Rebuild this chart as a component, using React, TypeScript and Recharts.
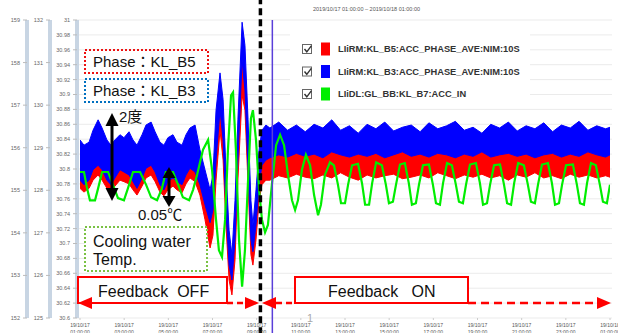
import React from 'react';
import { ComposedChart, Area, Line, XAxis, YAxis, CartesianGrid, ReferenceLine } from 'recharts';

// hours since 2019/10/17 00:00 (1 = 01:00, 25 = next day 01:00)
const phaseHours = [
  1.0, 1.18, 1.41, 1.59, 1.82, 2.0, 2.22, 2.4, 2.58, 2.81, 2.99, 3.22, 3.4, 3.58, 3.81, 3.99, 4.22, 4.4, 4.62, 4.8, 4.98, 5.21, 5.39, 5.62, 5.8, 5.98,
  6.21, 6.43, 6.66, 6.89, 7.02, 7.16, 7.34, 7.48, 7.61, 7.75, 7.88, 8.02, 8.15, 8.34, 8.47, 8.61, 8.74, 8.83, 8.97, 9.11, 9.24, 9.42,
  9.6, 10.0, 10.4, 10.8, 11.2, 11.6, 12.0, 12.4, 12.8, 13.2, 13.6, 14.0, 14.4, 14.8, 15.2, 15.6, 16.0, 16.4, 16.8, 17.2,
  17.6, 18.0, 18.4, 18.8, 19.2, 19.6, 20.0, 20.4, 20.8, 21.2, 21.6, 22.0, 22.4, 22.8, 23.2, 23.6, 24.0, 24.4, 24.8, 25.0,
];

// KL_B5 phase (red) noise band, low / high edge
const b5Low = [
  30.774, 30.769, 30.774, 30.785, 30.792, 30.785, 30.774, 30.769, 30.777, 30.785, 30.783, 30.78, 30.772, 30.765, 30.777, 30.788, 30.792, 30.783, 30.769, 30.764, 30.772, 30.777, 30.772, 30.768, 30.78, 30.788,
  30.783, 30.765, 30.732, 30.694, 30.711, 30.785, 30.852, 30.812, 30.725, 30.651, 30.631, 30.678, 30.785, 30.899, 30.879, 30.779, 30.685, 30.671, 30.705, 30.758, 30.779, 30.785,
  30.785, 30.791, 30.788, 30.793, 30.789, 30.787, 30.792, 30.788, 30.795, 30.789, 30.785, 30.792, 30.788, 30.791, 30.793, 30.787, 30.789, 30.792, 30.788, 30.795,
  30.791, 30.787, 30.792, 30.789, 30.793, 30.788, 30.791, 30.785, 30.792, 30.789, 30.795, 30.788, 30.791, 30.787, 30.793, 30.789, 30.792, 30.788, 30.791, 30.789,
];
const b5High = [
  30.819, 30.812, 30.815, 30.828, 30.839, 30.832, 30.819, 30.812, 30.819, 30.826, 30.823, 30.826, 30.819, 30.812, 30.823, 30.832, 30.836, 30.828, 30.816, 30.812, 30.819, 30.826, 30.819, 30.812, 30.826, 30.832,
  30.832, 30.805, 30.772, 30.738, 30.758, 30.839, 30.893, 30.859, 30.772, 30.691, 30.658, 30.725, 30.839, 30.944, 30.933, 30.839, 30.732, 30.705, 30.745, 30.805, 30.826, 30.828,
  30.828, 30.826, 30.831, 30.824, 30.83, 30.827, 30.832, 30.826, 30.828, 30.823, 30.831, 30.827, 30.824, 30.83, 30.826, 30.832, 30.827, 30.828, 30.824, 30.831,
  30.826, 30.828, 30.823, 30.83, 30.827, 30.832, 30.824, 30.828, 30.826, 30.831, 30.827, 30.823, 30.83, 30.826, 30.828, 30.824, 30.831, 30.827, 30.828, 30.826,
];

// KL_B3 phase (blue) noise band
const b3Low = [
  30.785, 30.779, 30.785, 30.799, 30.805, 30.799, 30.785, 30.779, 30.788, 30.799, 30.796, 30.792, 30.783, 30.774, 30.788, 30.801, 30.805, 30.796, 30.779, 30.772, 30.783, 30.788, 30.783, 30.779, 30.792, 30.801,
  30.796, 30.779, 30.752, 30.728, 30.745, 30.812, 30.879, 30.839, 30.745, 30.671, 30.651, 30.705, 30.812, 30.946, 30.906, 30.799, 30.705, 30.689, 30.725, 30.779, 30.805, 30.812,
  30.815, 30.819, 30.816, 30.821, 30.817, 30.82, 30.815, 30.823, 30.819, 30.816, 30.82, 30.817, 30.821, 30.815, 30.819, 30.823, 30.817, 30.82, 30.816, 30.821,
  30.819, 30.815, 30.82, 30.817, 30.823, 30.816, 30.819, 30.821, 30.817, 30.82, 30.815, 30.819, 30.821, 30.816, 30.82, 30.817, 30.823, 30.819, 30.816, 30.819,
];
const b3High = [
  30.839, 30.832, 30.836, 30.852, 30.866, 30.855, 30.839, 30.832, 30.839, 30.846, 30.842, 30.85, 30.839, 30.832, 30.846, 30.859, 30.863, 30.85, 30.836, 30.832, 30.842, 30.846, 30.836, 30.832, 30.846, 30.855,
  30.859, 30.826, 30.799, 30.772, 30.792, 30.879, 30.929, 30.893, 30.799, 30.718, 30.685, 30.758, 30.866, 30.997, 30.966, 30.866, 30.758, 30.725, 30.772, 30.826, 30.852, 30.859,
  30.855, 30.863, 30.852, 30.859, 30.85, 30.86, 30.855, 30.866, 30.852, 30.858, 30.848, 30.86, 30.854, 30.863, 30.851, 30.856, 30.859, 30.85, 30.862, 30.854,
  30.858, 30.864, 30.852, 30.856, 30.848, 30.86, 30.855, 30.863, 30.851, 30.858, 30.854, 30.862, 30.85, 30.859, 30.855, 30.864, 30.852, 30.858, 30.854, 30.856,
];

// cooling water temperature KL_B7 (green)
const coolHours = [
  1.0, 1.18, 1.32, 1.45, 1.68, 1.82, 2.0, 2.27, 2.49, 2.72, 2.99, 3.17, 3.4, 3.72, 3.99, 4.22, 4.49, 4.71, 4.89, 5.21, 5.44, 5.66, 5.94, 6.12, 6.3,
  6.57, 6.8, 6.98, 7.16, 7.29, 7.43, 7.57, 7.7, 7.84, 7.93, 8.06, 8.2, 8.34, 8.47, 8.61, 8.74, 8.83, 8.97, 9.11, 9.24, 9.38, 9.51, 9.69, 9.88,
  10.06, 10.24, 10.42, 10.6, 10.74, 10.87, 11.05, 11.23, 11.42, 11.6, 11.78, 11.91, 12.09, 12.32,
  12.5, 12.68, 12.82, 13.0, 13.14, 13.32, 13.59, 13.77, 13.91, 14.09, 14.23, 14.41,
  14.67, 14.85, 14.99, 15.17, 15.31, 15.49, 15.71, 15.89, 16.03, 16.21, 16.35, 16.53,
  16.8, 16.98, 17.12, 17.3, 17.44, 17.62, 17.84, 18.02, 18.16, 18.34, 18.48, 18.66,
  18.93, 19.11, 19.25, 19.43, 19.57, 19.75, 20.02, 20.2, 20.34, 20.52, 20.66, 20.84,
  21.1, 21.28, 21.42, 21.6, 21.74, 21.92, 22.19, 22.37, 22.51, 22.69, 22.83, 23.01,
  23.32, 23.5, 23.64, 23.82, 23.96, 24.14, 24.36, 24.54, 24.68, 24.86, 25.0,
];
const coolTemp = [
  30.796, 30.796, 30.774, 30.758, 30.758, 30.774, 30.796, 30.796, 30.779, 30.761, 30.758, 30.774, 30.796, 30.796, 30.779, 30.762, 30.758, 30.774, 30.796, 30.796, 30.779, 30.762, 30.758, 30.772, 30.792,
  30.826, 30.839, 30.799, 30.732, 30.691, 30.682, 30.732, 30.826, 30.899, 30.903, 30.826, 30.705, 30.642, 30.691, 30.785, 30.868, 30.879, 30.839, 30.772, 30.732, 30.715, 30.725, 30.779, 30.832,
  30.846, 30.832, 30.792, 30.758, 30.745, 30.758, 30.799, 30.819, 30.805, 30.765, 30.738, 30.752, 30.792, 30.809,
  30.805, 30.779, 30.754, 30.754, 30.779, 30.805, 30.807, 30.781, 30.752, 30.752, 30.781, 30.809,
  30.805, 30.779, 30.754, 30.756, 30.779, 30.806, 30.808, 30.781, 30.752, 30.754, 30.779, 30.805,
  30.806, 30.779, 30.754, 30.752, 30.781, 30.808, 30.805, 30.779, 30.756, 30.754, 30.779, 30.806,
  30.808, 30.781, 30.752, 30.754, 30.779, 30.805, 30.806, 30.779, 30.754, 30.752, 30.781, 30.808,
  30.805, 30.779, 30.756, 30.754, 30.779, 30.806, 30.808, 30.781, 30.752, 30.754, 30.779, 30.805,
  30.806, 30.779, 30.754, 30.752, 30.781, 30.808, 30.805, 30.779, 30.756, 30.754, 30.779,
];

const xTicks = [1, 3, 5, 7, 9, 11, 13, 15, 17, 19, 21, 23, 25];
const tickDates = ['19/10/17', '19/10/17', '19/10/17', '19/10/17', '19/10/17', '19/10/17', '19/10/17', '19/10/17', '19/10/17', '19/10/17', '19/10/17', '19/10/17', '19/10/18'];
const tickTimes = ['01:00:00', '03:00:00', '05:00:00', '07:00:00', '09:00:00', '11:00:00', '13:00:00', '15:00:00', '17:00:00', '19:00:00', '21:00:00', '23:00:00', '01:00:00'];
const tempTicks = [30.6, 30.62, 30.64, 30.66, 30.68, 30.7, 30.72, 30.74, 30.76, 30.78, 30.8, 30.82, 30.84, 30.86, 30.88, 30.9, 30.92, 30.94, 30.96, 30.98, 31];
const midTicks = [125, 126, 127, 128, 129, 130, 131, 132];
const outerTicks = [152, 153, 154, 155, 156, 157, 158, 159];

const feedbackSwitch = 9.17;
const purpleMarker = 9.71;

const legendItems = [
  { name: 'LIiRM:KL_B5:ACC_PHASE_AVE:NIM:10S', color: '#ff0000' },
  { name: 'LIiRM:KL_B3:ACC_PHASE_AVE:NIM:10S', color: '#0000ff' },
  { name: 'LIiDL:GL_BB:KL_B7:ACC_IN', color: '#00ee00' },
];

const phaseRows = phaseHours.map((t, i) => ({ t, b5: [b5Low[i], b5High[i]], b3: [b3Low[i], b3High[i]] }));
const coolRows = coolHours.map((t, i) => ({ t, b7: coolTemp[i] }));

const FONT = '"Liberation Sans", Arial, "Noto Sans CJK JP", sans-serif';

const TimeTick = ({ x, y, payload }: any) => {
  const i = xTicks.indexOf(payload.value);
  return (
    <g>
      <text x={x} y={y + 5} textAnchor="middle" fontSize={5} fill="#555">{tickDates[i]}</text>
      <text x={x} y={y + 11.5} textAnchor="middle" fontSize={5} fill="#555">{tickTimes[i]}</text>
    </g>
  );
};

const axisProps = {
  interval: 0 as const,
  tickSize: 4,
  tickMargin: 3,
  allowDataOverflow: true,
  tick: { fontSize: 5.5, fill: '#666' },
  tickLine: { stroke: '#bbb' },
  axisLine: { stroke: '#c8d5e3', strokeWidth: 4 },
};

const Arrow = ({ x, top, bottom, head }: { x: number; top: number; bottom: number; head: number }) => (
  <g>
    <line x1={x} y1={top + head - 2} x2={x} y2={bottom - head + 2} stroke="#000" strokeWidth={3} />
    <polygon points={`${x},${top} ${x - 6.5},${top + head} ${x + 6.5},${top + head}`} fill="#000" />
    <polygon points={`${x},${bottom} ${x - 6.5},${bottom - head} ${x + 6.5},${bottom - head}`} fill="#000" />
  </g>
);

const Annotations = () => (
  <svg width={618} height={333} style={{ position: 'absolute', left: 0, top: 0, fontFamily: FONT }}>
    <text x={313} y={11} fontSize={5.5} fill="#555">2019/10/17 01:00:00 – 2019/10/18 01:00:00</text>

    {/* legend */}
    <rect x={290} y={30} width={240} height={77} fill="#fff" />
    {legendItems.map((item, i) => {
      const cy = 49 + i * 22.5;
      return (
        <g key={item.name}>
          <rect x={302.5} y={cy - 4.5} width={9} height={9} fill="#fff" stroke="#666" strokeWidth={1} />
          <path d={`M304.5 ${cy} l2.3 2.8 l4.5 -6`} fill="none" stroke="#333" strokeWidth={1.4} />
          <rect x={321} y={cy - 6.5} width={9} height={13} fill={item.color} />
          <text x={338} y={cy + 3.3} fontSize={9.3} fontWeight="bold" fill="#333">{item.name}</text>
        </g>
      );
    })}

    {/* phase labels */}
    <rect x={85} y={50} width={123} height={23} fill="#fff" stroke="#ee1111" strokeWidth={2} strokeDasharray="2 2" />
    <text x={93} y={67} fontSize={15} fill="#111">Phase：KL_B5</text>
    <rect x={85} y={79} width={123} height={23} fill="#fff" stroke="#0070c0" strokeWidth={2} strokeDasharray="2 2" />
    <text x={93} y={96} fontSize={15} fill="#111">Phase：KL_B3</text>

    <Arrow x={112} top={113} bottom={201} head={13} />
    <text x={119} y={122} fontSize={15} fill="#111">2度</text>
    <Arrow x={169} top={167} bottom={207} head={11} />
    <text x={138} y={220} fontSize={15} fill="#111">0.05℃</text>

    <rect x={85} y={227} width={122} height={44} fill="#fff" stroke="#7ac143" strokeWidth={2} strokeDasharray="2 2" />
    <text x={93} y={247} fontSize={16} fill="#111">Cooling water</text>
    <text x={93} y={265} fontSize={16} fill="#111">Temp.</text>

    {/* feedback OFF */}
    <rect x={78} y={277} width={149} height={26} fill="#fff" stroke="#ff0000" strokeWidth={2} />
    <text x={98} y={297} fontSize={16} fill="#111" style={{ whiteSpace: 'pre' }}>Feedback  OFF</text>
    <line x1={227} y1={303} x2={248} y2={303} stroke="#ff0000" strokeWidth={2.5} strokeDasharray="6 4" />
    <polygon points="78,303 92,297 92,309" fill="#ff0000" />
    <polygon points="259,303 245,297 245,309" fill="#ff0000" />

    {/* feedback ON */}
    <rect x={295} y={277} width={173} height={26} fill="#fff" stroke="#ff0000" strokeWidth={2} />
    <text x={328} y={297} fontSize={16} fill="#111" style={{ whiteSpace: 'pre' }}>Feedback   ON</text>
    <line x1={276} y1={303} x2={295} y2={303} stroke="#ff0000" strokeWidth={2.5} strokeDasharray="6 4" />
    <line x1={468} y1={303} x2={598} y2={303} stroke="#ff0000" strokeWidth={2.5} strokeDasharray="8 5" />
    <polygon points="262,303 276,297 276,309" fill="#ff0000" />
    <polygon points="611,303 597,297 597,309" fill="#ff0000" />

    <text x={307} y={322} fontSize={11} fill="#aaa">1</text>
  </svg>
);

const App = () => {
  return (
    <div style={{ position: 'absolute', left: 0, top: 0, width: 618, height: 333, fontFamily: FONT, background: '#fff' }}>
      <ComposedChart width={618} height={333} margin={{ top: 20, right: 6, bottom: 0, left: 0 }}>
        <CartesianGrid yAxisId="a" vertical={false} stroke="#ebebeb" />
        <XAxis
          dataKey="t"
          type="number"
          domain={[1, 25]}
          ticks={xTicks}
          interval={0}
          height={15}
          padding={{ left: 3, right: 2 }}
          allowDataOverflow
          tick={<TimeTick />}
          tickSize={2}
          tickLine={{ stroke: '#ccc' }}
          axisLine={false}
        />
        {/* temperature axis next to the plot, then the two phase scales further out */}
        <YAxis yAxisId="a" type="number" domain={[30.6, 31]} ticks={tempTicks} width={27} {...axisProps} />
        <YAxis yAxisId="b" type="number" domain={[125, 132]} ticks={midTicks} width={23} {...axisProps} />
        <YAxis yAxisId="c" type="number" domain={[152, 159]} ticks={outerTicks} width={27} {...axisProps} />

        <Area yAxisId="a" data={phaseRows} dataKey="b5" type="linear" stroke="#ff0000" strokeWidth={1} fill="#ff0000" fillOpacity={1} dot={false} activeDot={false} isAnimationActive={false} />
        <Area yAxisId="a" data={phaseRows} dataKey="b3" type="linear" stroke="#0000ff" strokeWidth={1} fill="#0000ff" fillOpacity={1} dot={false} activeDot={false} isAnimationActive={false} />
        <Line yAxisId="a" data={coolRows} dataKey="b7" type="linear" stroke="#00ee00" strokeWidth={2.2} dot={false} activeDot={false} isAnimationActive={false} />

        <ReferenceLine yAxisId="a" segment={[{ x: purpleMarker, y: 31 }, { x: purpleMarker, y: 30.55 }]} ifOverflow="visible" stroke="#5a3fd9" strokeWidth={1.5} />
        <ReferenceLine yAxisId="a" segment={[{ x: feedbackSwitch, y: 31.06 }, { x: feedbackSwitch, y: 30.55 }]} ifOverflow="visible" stroke="#000" strokeWidth={3.5} strokeDasharray="7 4" />
      </ComposedChart>
      <Annotations />
    </div>
  );
};

export default App;
